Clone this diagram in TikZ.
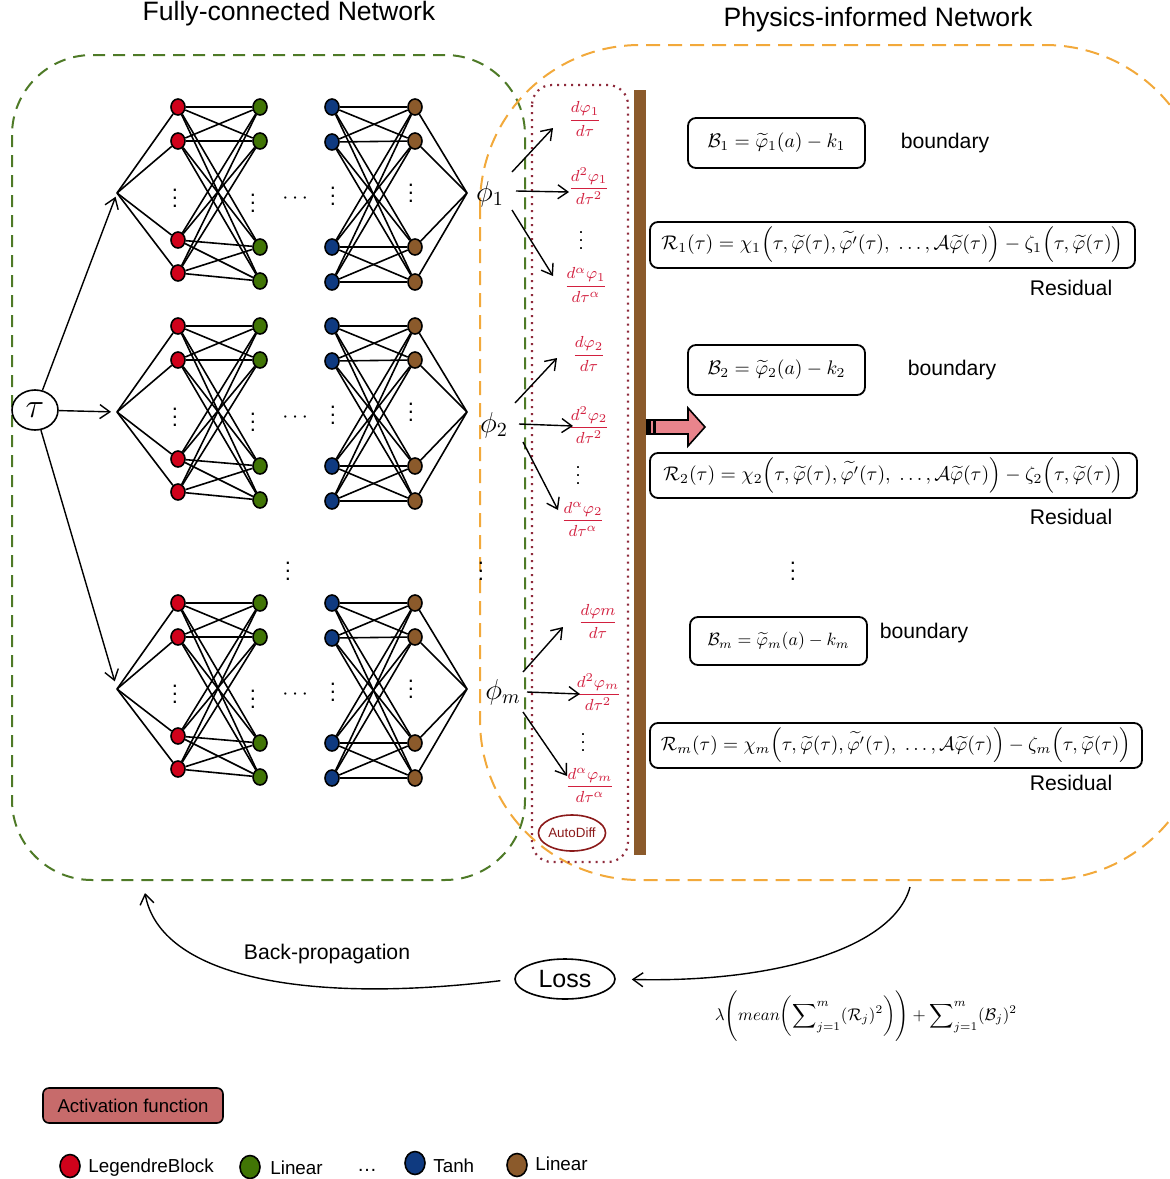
\documentclass[tikz,border=0pt]{standalone}
\usepackage{amsmath}
\usepackage{graphicx}
\usepackage[no-math]{fontspec}
\setmainfont{Liberation Sans}
\usetikzlibrary{arrows.meta,shapes.geometric,calc}
\definecolor{nred}{HTML}{D0021B}
\definecolor{ngreen}{HTML}{417505}
\definecolor{nblue}{HTML}{0F3A80}
\definecolor{nbrown}{HTML}{8B5A2B}
\definecolor{dgreen}{HTML}{4E7A27}
\definecolor{dorange}{HTML}{F2A93B}
\definecolor{dpurple}{HTML}{8E2A3B}
\definecolor{dtext}{HTML}{D2203F}
\definecolor{pinkarrow}{HTML}{E9848C}
\definecolor{actfill}{HTML}{C76B6B}
\definecolor{adcol}{HTML}{8B1A1A}
\begin{document}
\begin{tikzpicture}[x=0.5pt,y=-0.5pt,
  neuron/.style={ellipse,draw=black,line width=0.8pt,minimum width=7pt,minimum height=8pt,inner sep=0pt},
  conn/.style={line width=0.8pt},
  arr/.style={line width=0.7pt,-{Straight Barb[length=5pt,width=7pt,line width=0.7pt]}},
  eqbox/.style={draw,line width=0.9pt,rounded corners=4pt,inner sep=0pt},
  lbl/.style={font=\fontsize{10.6}{12}\selectfont},
  dtxt/.style={text=dtext,font=\fontsize{8.3}{9}\selectfont,inner sep=0pt},
  ttl/.style={font=\fontsize{13.3}{15}\selectfont},
  vd/.style={font=\fontsize{11}{12}\selectfont,inner sep=0pt},
  svd/.style={font=\fontsize{9}{10}\selectfont,inner sep=0pt},
  phil/.style={font=\fontsize{14}{14}\selectfont,inner sep=0pt},
  lgc/.style={ellipse,draw=black,line width=0.8pt,minimum width=10pt,minimum height=11.5pt,inner sep=0pt},
  lgt/.style={anchor=west,inner sep=0pt,font=\fontsize{9.4}{11}\selectfont},
]
\useasboundingbox (0,0) rectangle (1170,1179);

% containers
\draw[dgreen,line width=1pt,dash pattern=on 6pt off 4pt,rounded corners=40pt] (12,55) rectangle (525,880);
\draw[dorange,line width=1pt,dash pattern=on 7pt off 4pt,rounded corners=80pt] (480,45) rectangle (1205,880);
\draw[dpurple,line width=1.1pt,dash pattern=on 1pt off 2.5pt,rounded corners=10pt] (532,85) rectangle (628,862);

% titles
\node[ttl] (t1) at (289,14) {Fully-connected Network};
\node[ttl] (t2) at (878,20) {Physics-informed Network};

% tau
\node[ellipse,draw,line width=0.8pt,minimum width=23pt,minimum height=20pt,inner sep=0pt,font=\fontsize{18}{18}\selectfont] (tau) at (35,410) {$\tau$};

% blocks
\foreach \b/\T in {1/107,2/326,3/603} {
  \coordinate (in-\b) at (117,\T+86);
  \coordinate (out-\b) at (467,\T+86);
  \foreach \i/\dy in {1/0,2/34,3/133,4/166}
    \node[neuron,fill=nred] (r-\b-\i) at (178,\T+\dy) {};
  \foreach \i/\dy in {1/0,2/34,3/140,4/174}
    \node[neuron,fill=ngreen] (g-\b-\i) at (260,\T+\dy) {};
  \foreach \i/\dy in {1/0,2/35,3/140,4/175}
    \node[neuron,fill=nblue] (u-\b-\i) at (332,\T+\dy) {};
  \foreach \i/\dy in {1/0,2/34,3/140,4/175}
    \node[neuron,fill=nbrown] (w-\b-\i) at (415,\T+\dy) {};
  \node[vd] (rd-\b) at (175,\T+85) {$\vdots$};
  \node[vd] (gd-\b) at (253,\T+90) {$\vdots$};
  \node[vd] (hd-\b) at (297,\T+92) {$\cdots$};
  \node[vd] (ud-\b) at (333,\T+83) {$\vdots$};
  \node[vd] (wd-\b) at (411,\T+80) {$\vdots$};
}
\foreach \b in {1,2,3} {
  \foreach \i in {1,...,4} {
    \draw[conn] (in-\b) -- (r-\b-\i);
    \draw[conn] (w-\b-\i) -- (out-\b);
    \foreach \j in {1,...,4} {
      \draw[conn] (r-\b-\i) -- (g-\b-\j);
      \draw[conn] (u-\b-\i) -- (w-\b-\j);
    }
  }
}
\draw[arr,shorten >=2pt] (tau) -- (in-1);
\draw[arr,shorten >=3pt] (tau) -- (in-2);
\draw[arr,shorten >=4pt] (tau) -- (in-3);

% between-block dots
\node[vd] (md1) at (288,565) {$\vdots$};
\node[vd] (md2) at (481,565) {$\vdots$};
\node[vd] (md3) at (793,565) {$\vdots$};

% outputs
\node[phil] (phi1) at (490,194) {$\phi_1$};
\node[phil] (phi2) at (494,425) {$\phi_2$};
\node[phil] (phim) at (503,692) {$\phi_m$};

% derivatives
\node[dtxt] (d11) at (585,119) {$\dfrac{d\varphi_1}{d\tau}$};
\node[dtxt] (d12) at (589,186) {$\dfrac{d^2\varphi_1}{d\tau^2}$};
\node[svd] (dd1) at (581,235) {$\vdots$};
\node[dtxt] (d13) at (586,285) {$\dfrac{d^\alpha\varphi_1}{d\tau^\alpha}$};
\node[dtxt] (d21) at (589,354) {$\dfrac{d\varphi_2}{d\tau}$};
\node[dtxt] (d22) at (589,425) {$\dfrac{d^2\varphi_2}{d\tau^2}$};
\node[svd] (dd2) at (578,470) {$\vdots$};
\node[dtxt] (d23) at (583,519) {$\dfrac{d^\alpha\varphi_2}{d\tau^\alpha}$};
\node[dtxt] (d31) at (598,621) {$\dfrac{d\varphi m}{d\tau}$};
\node[dtxt] (d32) at (598,692) {$\dfrac{d^2\varphi_m}{d\tau^2}$};
\node[svd] (dd3) at (583,737) {$\vdots$};
\node[dtxt] (d33) at (590,785) {$\dfrac{d^\alpha\varphi_m}{d\tau^\alpha}$};

\draw[arr] ($(phi1)+(22,-22)$) -- ($(d11)+(-32,9)$);
\draw[arr] ($(phi1)+(26,-3)$) -- ($(d12)+(-20,6)$);
\draw[arr] ($(phi1)+(22,16)$) -- ($(d13)+(-33,-9)$);
\draw[arr] ($(phi2)+(21,-22)$) -- ($(d21)+(-32,4)$);
\draw[arr] ($(phi2)+(25,-1)$) -- ($(d22)+(-16,1)$);
\draw[arr] ($(phi2)+(29,17)$) -- ($(d23)+(-25,-9)$);
\draw[arr] ($(phim)+(20,-20)$) -- ($(d31)+(-35,6)$);
\draw[arr] ($(phim)+(24,0)$) -- ($(d32)+(-18,2)$);
\draw[arr] ($(phim)+(20,20)$) -- ($(d33)+(-23,-9)$);

\node[ellipse,draw=adcol,text=adcol,line width=0.8pt,minimum width=31pt,minimum height=18pt,inner sep=0pt,font=\fontsize{6.7}{8}\selectfont] (ad) at (572,833) {AutoDiff};

% brown bar and pink arrow
\fill[nbrown] (634,90) rectangle (646,855);
\draw[line width=0.8pt,fill=pinkarrow] (647,420) -- (688,420) -- (688,408) -- (705,427) -- (688,446) -- (688,434) -- (647,434) -- cycle;
\fill (647,420) rectangle (651,434);
\fill (653,420) rectangle (656,434);

% equations
\node[eqbox,minimum width=88.5pt,minimum height=25pt] (b1) at (776.5,143) {\resizebox{69pt}{!}{$\mathcal{B}_1 = \widetilde{\varphi}_1(a) - k_1$}};
\node[lbl] (bl1) at (945,143) {boundary};
\node[eqbox,minimum width=242.5pt,minimum height=23pt] (r1) at (892.5,245) {\resizebox{231pt}{!}{$\mathcal{R}_1(\tau) = \chi_1\Bigl(\tau,\widetilde{\varphi}(\tau),\widetilde{\varphi'}(\tau),\ \ldots,\mathcal{A}\widetilde{\varphi}(\tau)\Bigr) - \zeta_1\Bigl(\tau,\widetilde{\varphi}(\tau)\Bigr)$}};
\node[lbl] (rl1) at (1071,288) {Residual};

\node[eqbox,minimum width=88.5pt,minimum height=25pt] (b2) at (776.5,370) {\resizebox{69pt}{!}{$\mathcal{B}_2 = \widetilde{\varphi}_2(a) - k_2$}};
\node[lbl] (bl2) at (952,370) {boundary};
\node[eqbox,minimum width=243.5pt,minimum height=22.5pt] (r2) at (893.5,475.5) {\resizebox{230pt}{!}{$\mathcal{R}_2(\tau) = \chi_2\Bigl(\tau,\widetilde{\varphi}(\tau),\widetilde{\varphi'}(\tau),\ \ldots,\mathcal{A}\widetilde{\varphi}(\tau)\Bigr) - \zeta_2\Bigl(\tau,\widetilde{\varphi}(\tau)\Bigr)$}};
\node[lbl] (rl2) at (1071,517) {Residual};

\node[eqbox,minimum width=88.5pt,minimum height=24pt] (bm) at (778.5,641) {\resizebox{71pt}{!}{$\mathcal{B}_m = \widetilde{\varphi}_m(a) - k_m$}};
\node[lbl] (blm) at (924,633) {boundary};
\node[eqbox,minimum width=246pt,minimum height=22.5pt] (rm) at (896,745.5) {\resizebox{235pt}{!}{$\mathcal{R}_m(\tau) = \chi_m\Bigl(\tau,\widetilde{\varphi}(\tau),\widetilde{\varphi'}(\tau),\ \ldots,\mathcal{A}\widetilde{\varphi}(\tau)\Bigr) - \zeta_m\Bigl(\tau,\widetilde{\varphi}(\tau)\Bigr)$}};
\node[lbl] (rlm) at (1071,783) {Residual};

% loss
\node[ellipse,draw,line width=0.8pt,minimum width=50pt,minimum height=20pt,inner sep=0pt,font=\fontsize{12.5}{14}\selectfont] (loss) at (565,979) {Loss};
\node[inner sep=0pt] (lf) at (866,1016) {\resizebox{151pt}{!}{$\lambda\Biggl(mean\biggl(\displaystyle\sum\nolimits_{j=1}^{m}(\mathcal{R}_j)^2\biggr)\Biggr)+\displaystyle\sum\nolimits_{j=1}^{m}(\mathcal{B}_j)^2$}};
\coordinate (lstart) at (910,887);
\draw[arr,shorten >=8pt] (lstart) .. controls (893,950) and (770,983) .. (loss.east);
\coordinate (bpend) at (145,893);
\draw[arr,shorten <=7pt] (loss.west) .. controls (300,1005) and (160,975) .. (bpend);
\node[lbl] (bpl) at (327,954) {Back-propagation};

% legend
\node[draw,fill=actfill,rounded corners=3pt,line width=0.8pt,minimum width=90pt,minimum height=17.5pt,inner sep=0pt,font=\fontsize{9.3}{11}\selectfont] (act) at (133,1105.5) {Activation function};
\node[lgc,fill=nred] (lg1) at (70,1166) {};
\node[lgt] (lt1) at (88,1168) {LegendreBlock};
\node[lgc,fill=ngreen] (lg2) at (250,1167) {};
\node[lgt] (lt2) at (270,1168) {Linear};
\node[inner sep=0pt,font=\fontsize{10}{11}\selectfont] (lt3) at (367,1170) {\ldots};
\node[lgc,fill=nblue] (lg4) at (415,1163) {};
\node[lgt] (lt4) at (433,1166) {Tanh};
\node[lgc,fill=nbrown] (lg5) at (517,1165) {};
\node[lgt] (lt5) at (535,1164) {Linear};
\end{tikzpicture}
\end{document}
